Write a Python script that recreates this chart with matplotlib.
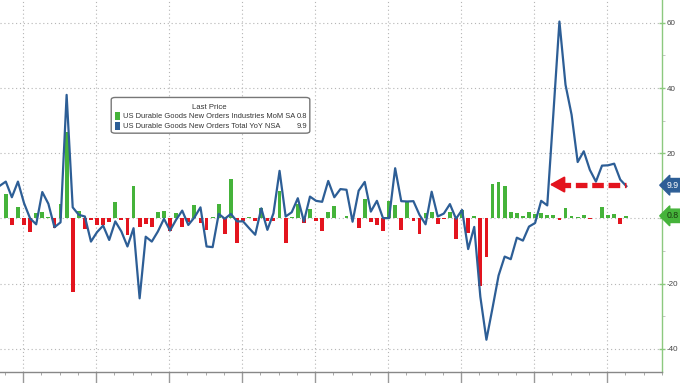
import matplotlib.pyplot as plt
from matplotlib.patches import FancyBboxPatch, Rectangle

plt.rcParams['axes.unicode_minus'] = False
plt.rcParams['font.family'] = ['Liberation Sans', 'DejaVu Sans']

# indice do mes (0 = set/2013 aprox.), um ponto por mes
meses_yoy = list(range(-1, 103))
meses_mom = list(range(0, 103))

# US Durable Goods New Orders Total YoY NSA
yoy = [10.0, 11.3, 6.5, 11.3, 4.7, 0.0, -1.8, 8.1, 4.5, -2.7, -1.2,
       37.9, 3.4, 1.1, 0.6, -7.1, -4.2, -2.2, -6.6, -0.9, -4.0,
       -8.6, -3.0, -24.5, -5.6, -7.1, -4.0, -0.1, -3.7, -0.4, 2.4,
       -2.0, 0.3, 3.4, -8.6, -8.8, 1.4, -0.1, 1.4, -0.9, -0.9,
       -3.0, -5.0, 3.1, -3.5, 1.6, 14.6, 0.6, 1.9, 6.2, -0.9,
       6.7, 5.4, 5.1, 11.5, 6.5, 9.0, 8.8, -1.0, 8.5, 11.2,
       2.1, 5.4, 0.1, 0.1, 15.4, 5.3, 5.2, 5.3, 1.1, -1.8,
       8.2, 0.6, 1.5, 4.4, -0.1, 2.6, -9.4, -2.6, -24.0, -37.2,
       -27.5, -17.5, -11.7, -12.5, -5.9, -6.8, -2.5, -1.4, 5.4, 4.0,
       32.0, 60.4, 41.0, 31.8, 17.3, 20.6, 14.9, 11.3, 16.2, 16.3,
       16.8, 11.9, 9.9]

# US Durable Goods New Orders Industries MoM SA
mom = [7.4, -2.0, 3.5, -2.0, -4.2, 1.6, 2.1, 0.3, -3.0, 4.4,
       26.4, -22.5, 2.3, -3.3, -0.5, -2.0, -2.0, -1.1, 5.0, -0.6,
       -5.2, 9.8, -2.6, -1.7, -2.5, 2.0, 2.2, -3.7, 1.8, -2.5,
       -1.1, 4.0, -1.4, -3.5, 0.3, 4.4, -4.7, 12.0, -7.6, -0.9,
       0.4, -0.9, 3.1, -0.7, -0.8, 8.3, -7.4, 0.4, 4.5, -1.5,
       2.9, -0.7, -4.0, 2.1, 3.7, 0.1, 0.6, 0.0, -3.0, 6.0,
       -1.1, -2.0, -4.0, 5.5, 4.1, -3.5, 4.9, -0.9, -4.8, 1.8,
       2.1, -1.7, -0.2, 2.1, -6.4, 2.6, -4.5, 0.8, -20.6, -11.7,
       10.5, 11.1, 9.8, 2.0, 1.6, 0.8, 2.1, 1.4, 1.6, 1.1,
       1.1, -0.5, 3.2, 0.6, 0.4, 1.1, -0.3, 0.2, 3.4, 1.1,
       1.3, -1.7, 0.8]

ultimo_mom = 0.8
ultimo_yoy = 9.9
nome_mom = 'US Durable Goods New Orders Industries MoM SA'
nome_yoy = 'US Durable Goods New Orders Total YoY NSA'

# inicio de cada ano (jan/2014 ... jan/2022) no indice de meses
anos = [2.86 + 12 * i for i in range(9)]
trimestres = [2.86 + 3 * i for i in range(-1, 36)]

verde = '#45b33a'
vermelho = '#e3141e'
azul = '#2d5e96'
verde_eixo = '#8cc97f'

fig = plt.figure(figsize=(6.8, 3.83), dpi=100)
ax = fig.add_axes([0, 11 / 383, 662 / 680, 372 / 383])

cores = [verde if v >= 0 else vermelho for v in mom]
ax.bar(meses_mom, mom, width=0.62, color=cores, zorder=2)
ax.plot(meses_yoy, yoy, color=azul, lw=1.6, zorder=3)

ax.set_xlim(-0.95, 104.1)
ax.set_ylim(-47.1, 67.0)

# eixos estilo bloomberg
for lado in ['left', 'top']:
    ax.spines[lado].set_visible(False)
ax.spines['right'].set_color(verde_eixo)
ax.spines['right'].set_linewidth(1.0)
ax.spines['bottom'].set_color('#888888')
ax.spines['bottom'].set_linewidth(1.0)

ax.yaxis.tick_right()
ax.set_yticks([-40, -20, 0, 20, 40, 60])
ax.set_yticklabels(['-40', '-20', '', '20', '40', '60'])  # o 0 fica tapado pela caixa 0.8
ax.set_yticks([-30, -10, 10, 30, 50], minor=True)
ax.tick_params(axis='y', which='major', direction='inout', length=4, width=1,
               color=verde_eixo, labelsize=5.8, labelcolor='#444444', pad=1.5)
ax.tick_params(axis='y', which='minor', direction='out', length=2, color='#bbbbbb')

ax.set_xticks(anos)
ax.set_xticks(trimestres, minor=True)
ax.tick_params(axis='x', which='major', direction='out', length=9, width=1,
               color='#999999', labelbottom=False)
ax.tick_params(axis='x', which='minor', direction='out', length=2, color='#999999')

ax.grid(True, which='major', linestyle=(0, (1, 2.5)), color='#b5b5b5', lw=0.8, zorder=0)
ax.set_axisbelow(True)

# caixas com o ultimo valor no eixo direito
ax.annotate(f'{ultimo_yoy}', xy=(1.0, 10.2), xycoords=('axes fraction', 'data'),
            xytext=(8, 0), textcoords='offset points', ha='center', va='center',
            fontsize=6.3, color='white', annotation_clip=False, zorder=6,
            bbox=dict(boxstyle='larrow,pad=0.25', fc=azul, ec=azul))
ax.annotate(f'{ultimo_mom}', xy=(1.0, ultimo_mom), xycoords=('axes fraction', 'data'),
            xytext=(8, 0), textcoords='offset points', ha='center', va='center',
            fontsize=6.3, color='#1a3a10', annotation_clip=False, zorder=6,
            bbox=dict(boxstyle='larrow,pad=0.25', fc=verde, ec=verde))

# seta vermelha tracejada
ax.plot([91.0, 102.0], [10.4, 10.4], color=vermelho, lw=3.8,
        dashes=(2.2, 0.9), solid_capstyle='butt', zorder=4)
ax.annotate('', xy=(89.4, 10.4), xytext=(91.2, 10.4),
            arrowprops=dict(arrowstyle='-|>,head_length=0.9,head_width=0.5',
                            color=vermelho, lw=1.5, shrinkA=0, shrinkB=0), zorder=4)

# legenda "Last Price"
caixa = FancyBboxPatch((0.168, 0.642), 0.300, 0.096, transform=ax.transAxes,
                       boxstyle='round,pad=0,rounding_size=0.006',
                       fc='white', ec='#777777', lw=1.0, zorder=5)
ax.add_patch(caixa)
ax.text(0.316, 0.712, 'Last Price', transform=ax.transAxes, ha='center', va='center',
        fontsize=5.6, color='#333333', zorder=6)
for yy, cor, nome, val in [(0.688, verde, nome_mom, ultimo_mom),
                           (0.661, azul, nome_yoy, ultimo_yoy)]:
    ax.add_patch(Rectangle((0.173, yy - 0.011), 0.0085, 0.022, transform=ax.transAxes,
                           fc=cor, ec='none', zorder=6))
    ax.text(0.186, yy, nome, transform=ax.transAxes, ha='left', va='center',
            fontsize=5.4, color='#333333', zorder=6)
    ax.text(0.464, yy, f'{val}', transform=ax.transAxes, ha='right', va='center',
            fontsize=5.4, color='#333333', zorder=6)

plt.savefig('out.png', dpi=100)
